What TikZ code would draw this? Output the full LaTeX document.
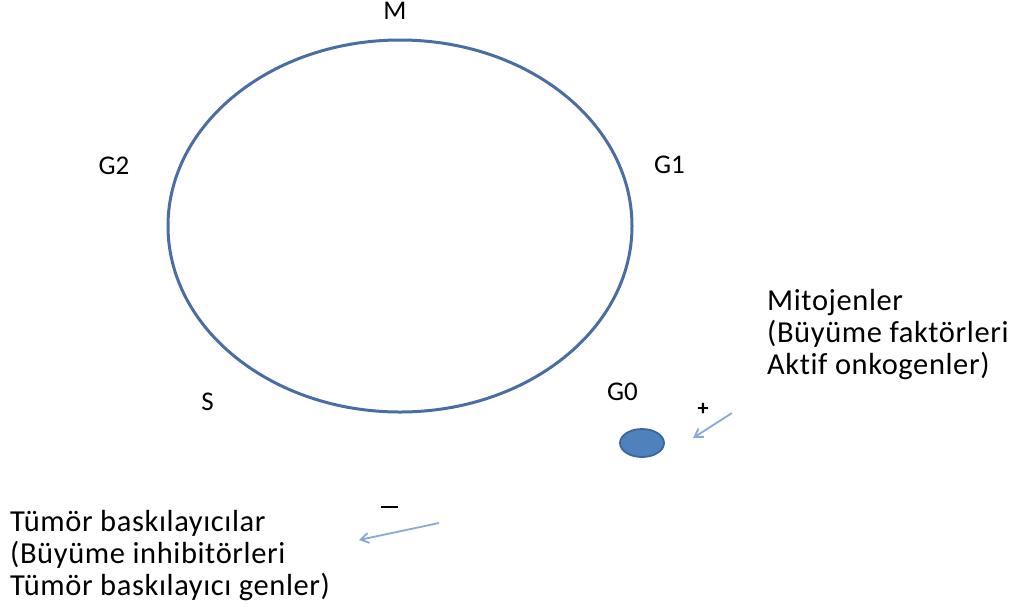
\documentclass[tikz,border=0pt]{standalone}
\usepackage{fontspec}
\setmainfont{Carlito}[Ligatures=NoCommon]
\usepackage{xcolor}
\usetikzlibrary{arrows.meta,positioning,shapes.geometric}
\definecolor{ring}{HTML}{4A6DA3}
\definecolor{dotfill}{HTML}{4F81BD}
\definecolor{dotline}{HTML}{3B679E}
\definecolor{pale}{HTML}{86A9DA}
\begin{document}
\begin{tikzpicture}[x=1pt,y=-1pt,
  every node/.style={font=\fontsize{27}{30}\selectfont,inner sep=0pt},
  ph/.style={anchor=center},
  t/.style={align=left,anchor=base west,font=\fontsize{30.5}{32}\selectfont\addfontfeature{LetterSpace=2}},
  e/.style={-{Straight Barb[length=8pt,width=10pt]},pale,line width=1.8pt}]
 \useasboundingbox (0,0) rectangle (1019,606);
 \draw[ring,line width=3pt] (400,226) ellipse [x radius=232,y radius=186];
 \node[ph] (m) at (395,11) {M};
 \node[ph] (g2) at (114,165.5) {G2};
 \node[ph] (g1) at (669.5,165) {G1};
 \node[ph] (s) at (207.5,401.5) {S};
 \node[ph] (g0) at (622.5,392) {G0};
 \node[draw=dotline,fill=dotfill,line width=1.8pt,ellipse,minimum width=44pt,minimum height=28pt] (d) at (642,443) {};
 \node[ph,font=\bfseries\fontsize{22}{24}\selectfont] (p) at (703,409.5) {+};
 \node[ph] (n) at (389.5,506.5) {\rule{17pt}{2pt}};
 % base = baseline of the last line
 \node[t] (mit) at (767,374) {Mitojenler\\(Büyüme faktörleri\\Aktif onkogenler)};
 \node[t] (tum) at (10,595) {Tümör baskılayıcılar\\(Büyüme inhibitörleri\\Tümör baskılayıcı genler)};
 \coordinate (a1) at (732,413); \coordinate (b1) at (693,438);
 \coordinate (a2) at (439,523); \coordinate (b2) at (359,540);
 \draw[e] (a1) -- (b1); \draw[e] (a2) -- (b2);
\end{tikzpicture}
\end{document}
